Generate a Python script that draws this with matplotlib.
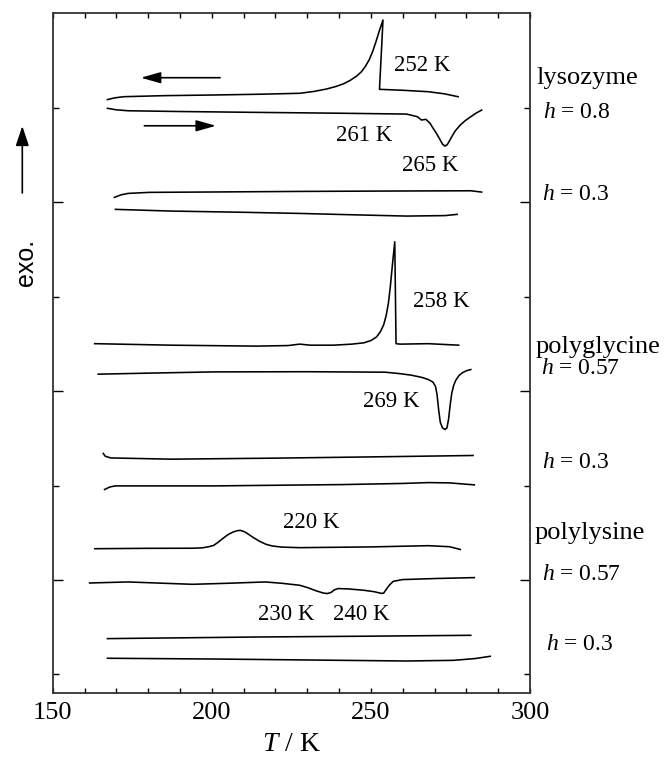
import matplotlib
matplotlib.use('Agg')
import matplotlib.pyplot as plt
from matplotlib.ticker import MultipleLocator, FixedLocator

plt.rcParams['font.family'] = ['Liberation Serif', 'DejaVu Serif']
plt.rcParams['mathtext.fontset'] = 'custom'
plt.rcParams['mathtext.rm'] = 'Liberation Serif'
plt.rcParams['mathtext.it'] = 'Liberation Serif:italic'

# lysozyme h=0.8, cooling (upper) and heating (lower)
lys08_cool_T = [167.2, 169.5, 172.4, 185, 200.6, 215, 227.6, 232, 236, 239, 241.5, 243.5, 245.5,
                247, 248.3, 249.5, 250.6, 251.6, 252.6, 253.8, 252.7, 260, 268.0, 273, 277.4]
lys08_cool_y = [6.086, 6.105, 6.117, 6.128, 6.135, 6.143, 6.153, 6.172, 6.198, 6.225, 6.255, 6.29,
                6.335, 6.38, 6.44, 6.51, 6.6, 6.7, 6.81, 6.929, 6.195, 6.185, 6.17, 6.148, 6.117]
lys08_heat_T = [167.2, 170, 173.7, 190, 214.1, 240, 261.2, 264.6, 265.9, 267.3, 268.6, 269.6,
                270.6, 271.6, 272.5, 273.3, 274.0, 274.7, 275.4, 276.5, 278.1, 279.7, 281.4,
                283, 284.8]
lys08_heat_y = [5.994, 5.978, 5.968, 5.96, 5.951, 5.942, 5.933, 5.905, 5.870, 5.877, 5.835, 5.78,
                5.729, 5.67, 5.615, 5.594, 5.61, 5.65, 5.693, 5.755, 5.817, 5.865, 5.905,
                5.942, 5.975]
# lysozyme h=0.3
lys03_cool_T = [169.4, 171.5, 173.7, 180.4, 200, 227.6, 255, 281.4, 284.8]
lys03_cool_y = [5.051, 5.078, 5.093, 5.104, 5.108, 5.114, 5.118, 5.121, 5.107]
lys03_heat_T = [169.7, 187.2, 210, 227.6, 245, 261.2, 273.3, 277.1]
lys03_heat_y = [4.924, 4.906, 4.893, 4.881, 4.866, 4.853, 4.858, 4.871]

# polyglycine h=0.57
pgly57_cool_T = [163.2, 187.2, 214.1, 224, 227.6, 231, 238.3, 244, 247.8, 250, 251.8, 253, 254,
                 254.8, 255.5, 256.1, 256.8, 257.5, 257.9, 259.2, 268.0, 277.6]
pgly57_cool_y = [3.502, 3.486, 3.476, 3.482, 3.497, 3.486, 3.486, 3.497, 3.511, 3.535, 3.574, 3.63,
                 3.70, 3.80, 3.93, 4.104, 4.35, 4.581, 3.502, 3.497, 3.502, 3.486]
pgly57_heat_T = [164.3, 180, 200.6, 230, 254.5, 259, 262.6, 266, 268.0, 269.5, 270.3, 270.8,
                 271.3, 271.8, 272.5, 273.3, 273.9, 274.4, 274.9, 275.4, 276.0, 276.7, 277.7,
                 278.7, 280, 281.4]
pgly57_heat_y = [3.179, 3.19, 3.203, 3.205, 3.2, 3.185, 3.169, 3.145, 3.123, 3.095, 3.05, 2.96,
                 2.80, 2.67, 2.61, 2.593, 2.61, 2.70, 2.85, 2.975, 3.06, 3.116, 3.165,
                 3.193, 3.215, 3.228]
# polyglycine h=0.3
pgly03_cool_T = [165.9, 166.5, 168.3, 187.2, 220, 250, 282.1]
pgly03_cool_y = [2.339, 2.31, 2.292, 2.279, 2.29, 2.303, 2.318]
pgly03_heat_T = [166.3, 168, 169.7, 200.6, 241.0, 260, 268.0, 274.7, 282.5]
pgly03_heat_y = [1.958, 1.985, 1.996, 1.996, 2.010, 2.022, 2.031, 2.028, 2.007]

# polylysine h=0.57
plys57_cool_T = [163.2, 180, 194, 197, 199, 200.6, 202, 203.5, 205, 206.5, 208, 209, 210.3, 211.5,
                 213, 215, 217, 219, 222, 227.6, 250, 268.0, 274.7, 278.1]
plys57_cool_y = [1.331, 1.335, 1.336, 1.340, 1.352, 1.366, 1.40, 1.44, 1.478, 1.505, 1.522, 1.525,
                 1.51, 1.485, 1.45, 1.41, 1.378, 1.36, 1.348, 1.342, 1.35, 1.363, 1.352, 1.323]
plys57_heat_T = [161.6, 173.7, 193.9, 205, 216.8, 222, 227.6, 230, 232.9, 235, 236.3, 237.5,
                 238.5, 239.7, 243, 247.8, 251, 253.3, 254, 254.8, 255.8, 257, 259.9, 270, 282.5]
plys57_heat_y = [0.968, 0.979, 0.954, 0.965, 0.979, 0.965, 0.944, 0.92, 0.884, 0.862, 0.856, 0.868,
                 0.895, 0.909, 0.905, 0.891, 0.876, 0.858, 0.86, 0.90, 0.945, 0.985, 1.004,
                 1.015, 1.025]
# polylysine h=0.3
plys03_cool_T = [167.2, 214.1, 250, 281.4]
plys03_cool_y = [0.379, 0.396, 0.405, 0.414]
plys03_heat_T = [167.2, 200.6, 241.0, 261.2, 276.0, 282.8, 287.5]
plys03_heat_y = [0.171, 0.163, 0.149, 0.142, 0.149, 0.168, 0.192]

curves = [
    (lys08_cool_T, lys08_cool_y), (lys08_heat_T, lys08_heat_y),
    (lys03_cool_T, lys03_cool_y), (lys03_heat_T, lys03_heat_y),
    (pgly57_cool_T, pgly57_cool_y), (pgly57_heat_T, pgly57_heat_y),
    (pgly03_cool_T, pgly03_cool_y), (pgly03_heat_T, pgly03_heat_y),
    (plys57_cool_T, plys57_cool_y), (plys57_heat_T, plys57_heat_y),
    (plys03_cool_T, plys03_cool_y), (plys03_heat_T, plys03_heat_y),
]

# peak annotations (text, T, y)
peak_labels = [
    ('252 K', 266.2, 6.452), ('261 K', 248.0, 5.704), ('265 K', 268.6, 5.386),
    ('258 K', 272.0, 3.952), ('269 K', 256.5, 2.886),
    ('220 K', 231.2, 1.604), ('230 K', 223.5, 0.636), ('240 K', 247.1, 0.636),
]

# right-hand labels (text, x px, y px)
side_labels = [
    ('lysozyme', 536, 78), ('$h$ = 0.8', 543, 112), ('$h$ = 0.3', 542, 194),
    ('polyglycine', 536, 347), ('$h$ = 0.57', 541, 368), ('$h$ = 0.3', 542, 462),
    ('polylysine', 535, 533), ('$h$ = 0.57', 542, 574), ('$h$ = 0.3', 546, 645),
]

W, H = 671, 757
fig = plt.figure(figsize=(W / 100, H / 100), dpi=100)
ax = fig.add_axes([52.7 / W, 1 - 693.3 / H, (530 - 52.7) / W, (693.3 - 13.3) / H])

for T, y in curves:
    ax.plot(T, y, color='black', lw=1.15, solid_joinstyle='round')

for txt, T, y in peak_labels:
    ax.text(T, y, txt, ha='center', va='center', fontsize=16.5)

# cooling / heating arrows
ax.annotate('', xy=(177.7, 6.318), xytext=(202.6, 6.318),
            arrowprops=dict(arrowstyle='-|>,head_length=0.6,head_width=0.17',
                            mutation_scale=20, lw=1.2, color='black', shrinkA=0, shrinkB=0))
ax.annotate('', xy=(201.3, 5.809), xytext=(178.8, 5.809),
            arrowprops=dict(arrowstyle='-|>,head_length=0.6,head_width=0.17',
                            mutation_scale=20, lw=1.2, color='black', shrinkA=0, shrinkB=0))

ax.set_xlim(150, 300)
ax.set_ylim(-0.2, 7)
ax.xaxis.set_major_locator(MultipleLocator(50))
ax.xaxis.set_minor_locator(MultipleLocator(10))
ax.yaxis.set_major_locator(FixedLocator([1, 3, 5]))
ax.yaxis.set_minor_locator(FixedLocator([0, 2, 4, 6]))
ax.tick_params(axis='x', which='both', direction='in', top=True, length=3.6, width=1.0,
               labelsize=19, pad=6)
ax.tick_params(axis='y', which='major', direction='in', right=True, length=7.5, width=1.0,
               labelleft=False)
ax.tick_params(axis='y', which='minor', direction='in', right=True, length=4.3, width=1.0)
for s in ax.spines.values():
    s.set_linewidth(1.3)
    s.set_color('#333333')

ax.set_xlabel('$T$ / K', fontsize=20, labelpad=6)

for txt, x, y in side_labels:
    fig.text(x / W, 1 - y / H, txt, ha='left', va='center',
             fontsize=17 if txt.startswith('$h$') else 19)

fig.text(26 / W, 1 - 262 / H, 'exo.', rotation=90, ha='center', va='center',
         fontsize=18, family='Liberation Sans')
fig.add_artist(matplotlib.patches.FancyArrowPatch(
    (22.3 / W, 1 - 193 / H), (22.3 / W, 1 - 126 / H), transform=fig.transFigure,
    arrowstyle='-|>,head_length=0.6,head_width=0.2', mutation_scale=20, lw=1.2,
    color='black', shrinkA=0, shrinkB=0))

fig.savefig('out.png', dpi=100)
